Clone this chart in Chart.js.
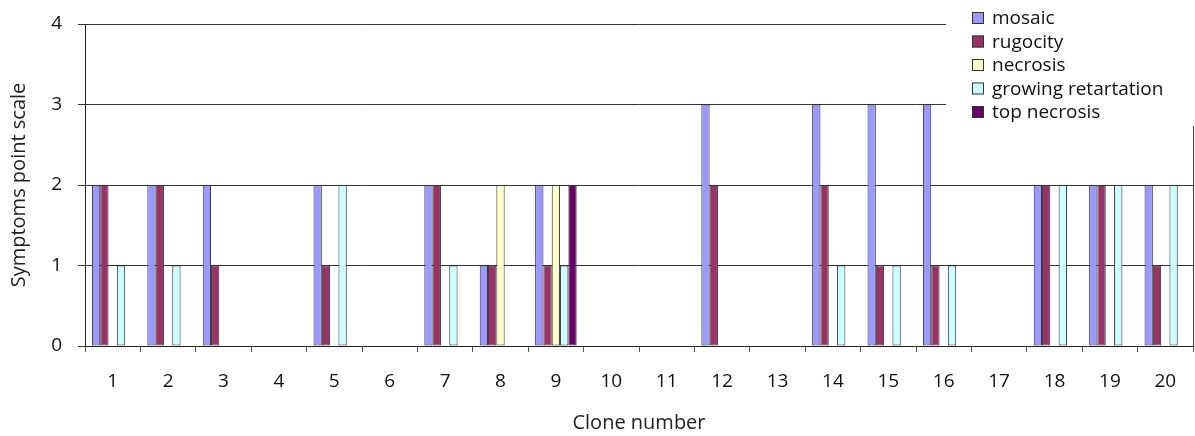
<!DOCTYPE html>
<html>
<head>
<meta charset="utf-8">
<script src="https://cdn.jsdelivr.net/npm/chart.js@4.4.1/dist/chart.umd.min.js"></script>
<style>
  html, body { margin: 0; padding: 0; background: #ffffff; }
  #wrap { width: 1195px; height: 436px; position: relative; }
</style>
</head>
<body>
<div id="wrap"><canvas id="chart"></canvas></div>
<script>
// Clone numbers along the x axis
const clones = ['1','2','3','4','5','6','7','8','9','10','11','12','13','14','15','16','17','18','19','20'];

// Symptom scores (0-4 point scale) per clone
const mosaic      = [2, 2, 2, 0, 2, 0, 2, 1, 2, 0, 0, 3, 0, 3, 3, 3, 0, 2, 2, 2];
const rugocity    = [2, 2, 1, 0, 1, 0, 2, 1, 1, 0, 0, 2, 0, 2, 1, 1, 0, 2, 2, 1];
const necrosis    = [0, 0, 0, 0, 0, 0, 0, 2, 2, 0, 0, 0, 0, 0, 0, 0, 0, 0, 0, 0];
const growingRet  = [1, 1, 0, 0, 2, 0, 1, 0, 1, 0, 0, 0, 0, 1, 1, 1, 0, 2, 2, 2];
const topNecrosis = [0, 0, 0, 0, 0, 0, 0, 0, 2, 0, 0, 0, 0, 0, 0, 0, 0, 0, 0, 0];

const yTicks = [0, 1, 2, 3, 4];

const FONT = '"Open Sans", "Noto Sans", sans-serif';

function series(label, data, color) {
  return {
    label: label,
    data: data,
    backgroundColor: color,
    borderColor: '#333333',
    borderWidth: 1,
    borderSkipped: false,
    categoryPercentage: 0.75,
    barPercentage: 1.0
  };
}

// Legend drawn inside the plot's upper right corner, on a white panel
const cornerLegend = {
  id: 'cornerLegend',
  afterDraw(chart) {
    const ctx = chart.ctx;
    const area = chart.chartArea;
    ctx.save();
    // right edge of the plot frame
    ctx.strokeStyle = '#404040';
    ctx.lineWidth = 1;
    ctx.beginPath();
    ctx.moveTo(area.right + 0.5, area.top);
    ctx.lineTo(area.right + 0.5, area.bottom);
    ctx.stroke();
    // panel
    ctx.fillStyle = '#ffffff';
    ctx.fillRect(946, 0, 249, 126);
    ctx.font = '19px ' + FONT;
    ctx.textBaseline = 'middle';
    ctx.textAlign = 'left';
    chart.data.datasets.forEach((ds, i) => {
      const y = 18 + i * 23.5;
      ctx.fillStyle = ds.backgroundColor;
      ctx.fillRect(972, y - 6, 12, 12);
      ctx.strokeStyle = '#333333';
      ctx.strokeRect(972.5, y - 5.5, 11, 11);
      ctx.fillStyle = '#111111';
      ctx.fillText(ds.label, 992, y + 1);
    });
    ctx.restore();
  }
};

new Chart(document.getElementById('chart'), {
  type: 'bar',
  data: {
    labels: clones,
    datasets: [
      series('mosaic', mosaic, '#9999FF'),
      series('rugocity', rugocity, '#993366'),
      series('necrosis', necrosis, '#FFFFCC'),
      series('growing retartation', growingRet, '#CCFFFF'),
      series('top necrosis', topNecrosis, '#660066')
    ]
  },
  options: {
    responsive: true,
    maintainAspectRatio: false,
    animation: false,
    layout: { padding: { top: 24, right: 2, left: 0, bottom: 0 } },
    plugins: {
      legend: { display: false },
      tooltip: { enabled: false }
    },
    scales: {
      x: {
        afterFit(axis) { axis.height = 90; },
        grid: {
          display: true,
          drawOnChartArea: false,
          drawTicks: true,
          tickLength: 6,
          color: '#555555',
          offset: true
        },
        border: { display: true, color: '#222222', width: 1 },
        ticks: {
          color: '#111111',
          padding: 18,
          maxRotation: 0,
          font: { family: FONT, size: 19 }
        },
        title: {
          display: true,
          text: 'Clone number',
          color: '#222222',
          font: { family: FONT, size: 20 },
          padding: { top: 18, bottom: 1 }
        }
      },
      y: {
        min: 0,
        max: 4,
        afterBuildTicks(axis) { axis.ticks = yTicks.map(v => ({ value: v })); },
        afterFit(axis) {
          axis.width = 85;
          axis.paddingTop = 0;
          axis.paddingBottom = 0;
        },
        grid: {
          color: '#333333',
          lineWidth: 1,
          drawTicks: true,
          tickLength: 7
        },
        border: { display: true, color: '#222222', width: 1 },
        ticks: {
          color: '#111111',
          padding: 16,
          font: { family: FONT, size: 19 }
        },
        title: {
          display: true,
          text: 'Symptoms point scale',
          color: '#222222',
          font: { family: FONT, size: 20 },
          padding: { top: 7, bottom: 4 }
        }
      }
    }
  },
  plugins: [cornerLegend]
});
</script>
</body>
</html>
